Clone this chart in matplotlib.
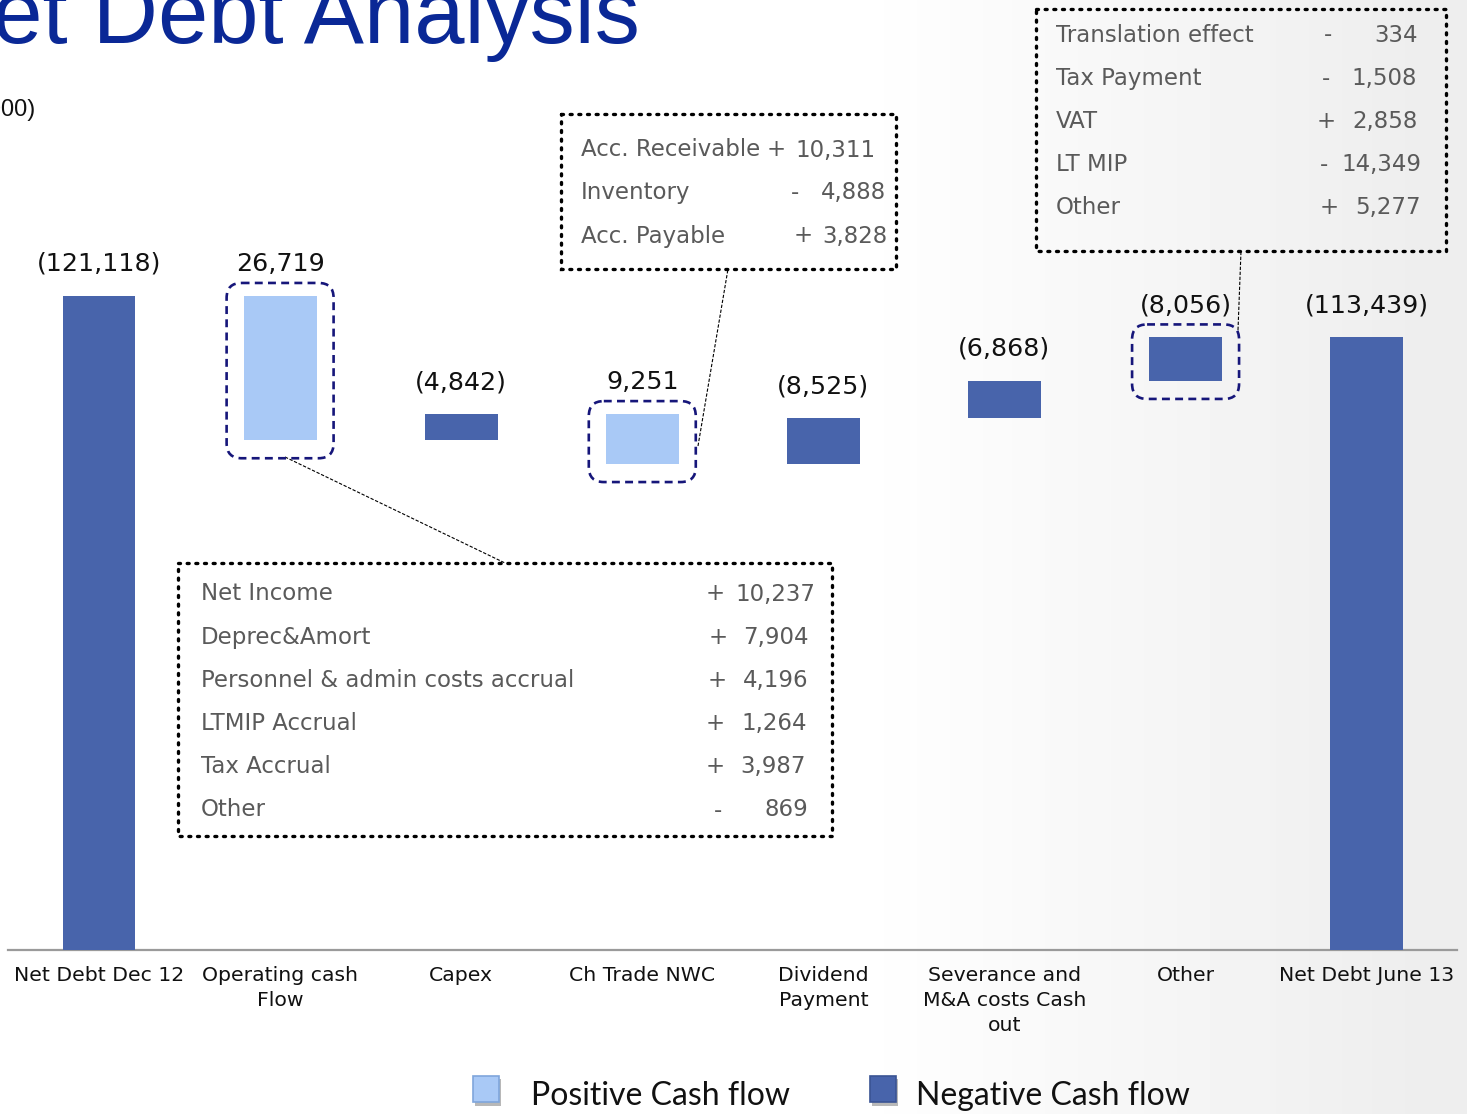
import matplotlib
matplotlib.use("Agg")
import matplotlib.pyplot as plt
import numpy as np
from matplotlib.patches import Rectangle, FancyBboxPatch

# ---------------- data ----------------
categories = ["Net Debt Dec 12", "Operating cash\nFlow", "Capex", "Ch Trade NWC",
              "Dividend\nPayment", "Severance and\nM&A costs Cash\nout", "Other",
              "Net Debt June 13"]
start_debt = 121118
cash_flows = [26719, -4842, 9251, -8525, -6868, -8056]
end_debt = 113439
value_labels = ["(121,118)", "26,719", "(4,842)", "9,251", "(8,525)",
                "(6,868)", "(8,056)", "(113,439)"]

op_items = ["Net Income", "Deprec&Amort", "Personnel & admin costs accrual",
            "LTMIP Accrual", "Tax Accrual", "Other"]
op_signs = ["+", "+", "+", "+", "+", "-"]
op_values = ["10,237", "7,904", "4,196", "1,264", "3,987", "869"]

nwc_items = ["Acc. Receivable", "Inventory", "Acc. Payable"]
nwc_signs = ["+", "-", "+"]
nwc_values = ["10,311", "4,888", "3,828"]

oth_items = ["Translation effect", "Tax Payment", "VAT", "LT MIP", "Other"]
oth_signs = ["-", "-", "+", "-", "+"]
oth_values = ["334", "1,508", "2,858", "14,349", "5,277"]

legend_labels = ["Positive Cash flow", "Negative Cash flow"]

# ---------------- style ----------------
DARK = "#4864AB"
LIGHT = "#A9C9F6"
NAVY = "#16167A"
GRAY_TXT = "#5a5a5a"
TITLE_BLUE = "#0A2896"

W, H = 1467, 1114
fig = plt.figure(figsize=(W / 100, H / 100), dpi=100)

# background gradient (light grey on the right)
bg = fig.add_axes([0, 0, 1, 1], zorder=0)
xs = np.linspace(0, 1, 400)
grad = np.clip((xs - 0.58) / 0.40, 0, 1)
vals = 1.0 - 0.07 * grad
img = np.tile(vals, (50, 1))
bg.imshow(img, cmap="gray", vmin=0, vmax=1, aspect="auto", extent=[0, 1, 0, 1])
bg.set_axis_off()

# main data axes
ax = fig.add_axes([0, 0, 1, 1], zorder=1)
ax.patch.set_alpha(0)
ax.set_xlim(-0.5467, 7.554)
ax.set_ylim(-30370, 175926)
ax.set_axis_off()

bottoms, heights, colors = [0], [start_debt], [DARK]
level = start_debt
for cf in cash_flows:
    new = level - cf
    bottoms.append(min(level, new))
    heights.append(abs(cf))
    colors.append(LIGHT if cf > 0 else DARK)
    level = new
bottoms.append(0)
heights.append(end_debt)
colors.append(DARK)

xpos = np.arange(len(categories))
ax.bar(xpos, heights, bottom=bottoms, width=0.403, color=colors, zorder=3)
ax.plot([-0.5, 7.5], [0, 0], color="#9a9a9a", lw=1.6, zorder=2)

# overlay pixel axes
ov = fig.add_axes([0, 0, 1, 1], zorder=2)
ov.set_xlim(0, W)
ov.set_ylim(H, 0)
ov.set_axis_off()
ov.patch.set_alpha(0)


def d2p(x, y):
    dx, dy = ax.transData.transform((x, y))
    return dx, H - dy


# value labels
for i, lab in enumerate(value_labels):
    px, py = d2p(xpos[i], bottoms[i] + heights[i])
    ov.text(px, py - 32, lab, ha="center", va="center", fontsize=18.2,
            color="#111111", family="DejaVu Sans")

# category labels
for i, cat in enumerate(categories):
    px, _ = d2p(xpos[i], 0)
    ov.text(px, 966, cat, ha="center", va="top", fontsize=14.7,
            color="#111111", family="DejaVu Sans", linespacing=1.4)

# dashed rounded boxes around bars with breakdowns
for i in [1, 3, 6]:
    x0, y0 = d2p(xpos[i] - 0.2015, bottoms[i] + heights[i])
    x1, y1 = d2p(xpos[i] + 0.2015, bottoms[i])
    box = FancyBboxPatch((x0 - 17, y0 - 13), (x1 - x0) + 34, (y1 - y0) + 31,
                         boxstyle="round,pad=0,rounding_size=15",
                         fill=False, ec=NAVY, lw=1.9, ls=(0, (3, 2)), zorder=5)
    ov.add_patch(box)


def dotted_box(x0, y0, x1, y1):
    r = Rectangle((x0, y0), x1 - x0, y1 - y0, fill=False, ec="black",
                  lw=2.4, ls=(0, (0.6, 2.0)), capstyle="round", zorder=5)
    ov.add_patch(r)


# operating cash flow box
dotted_box(178, 563, 832, 836)
op_sign_x = [715, 718, 717, 715, 715, 718]
op_val_x = [815, 809, 809, 807, 806, 808]
for k, (it, sg, vl) in enumerate(zip(op_items, op_signs, op_values)):
    y = 594 + 43.2 * k
    ov.text(201, y, it, ha="left", va="center", fontsize=16.5, color=GRAY_TXT)
    ov.text(op_sign_x[k], y, sg, ha="center", va="center", fontsize=16.5, color=GRAY_TXT)
    ov.text(op_val_x[k], y, vl, ha="right", va="center", fontsize=16.5, color=GRAY_TXT)

# NWC box
dotted_box(561, 114, 896, 269)
nwc_sign_x = [776, 795, 803]
nwc_val_x = [876, 886, 888]
for k, (it, sg, vl) in enumerate(zip(nwc_items, nwc_signs, nwc_values)):
    y = 150 + 43 * k
    ov.text(581, y, it, ha="left", va="center", fontsize=16.5, color=GRAY_TXT)
    ov.text(nwc_sign_x[k], y, sg, ha="center", va="center", fontsize=16.5, color=GRAY_TXT)
    ov.text(nwc_val_x[k], y, vl, ha="right", va="center", fontsize=16.5, color=GRAY_TXT)

# Other box
dotted_box(1036, 9, 1446, 251)
oth_sign_x = [1328, 1326, 1326, 1324, 1329]
oth_val_x = [1418, 1417, 1418, 1421, 1421]
for k, (it, sg, vl) in enumerate(zip(oth_items, oth_signs, oth_values)):
    y = 35 + 43.2 * k
    ov.text(1056, y, it, ha="left", va="center", fontsize=16.5, color=GRAY_TXT)
    ov.text(oth_sign_x[k], y, sg, ha="center", va="center", fontsize=16.5, color=GRAY_TXT)
    ov.text(oth_val_x[k], y, vl, ha="right", va="center", fontsize=16.5, color=GRAY_TXT)

# connector lines
conn = dict(color="black", lw=0.8, ls=(0, (3, 1.5)), zorder=4)
ov.plot([285, 505], [457, 563], **conn)
ov.plot([698, 728], [446, 269], **conn)
ov.plot([1238, 1241], [330, 251], **conn)

# title and unit (cropped at the edge, as in the reference)
ov.text(640, 43, "Net Debt Analysis", ha="right", va="baseline", fontsize=65,
        color=TITLE_BLUE, family="Liberation Sans")
ov.text(35, 116, "(€ 000)", ha="right", va="baseline", fontsize=17,
        color="#111111", family="Liberation Sans")

# legend
for (lx, fc, ec), lab, tx in zip([(473, LIGHT, "#7FA6DC"), (870, DARK, "#3A5494")],
                                 legend_labels, [531, 916]):
    ov.add_patch(Rectangle((lx + 2, 1079), 26, 27, fc="#b8b8b8", ec="none", zorder=4))
    ov.add_patch(Rectangle((lx, 1076), 26, 26, fc=fc, ec=ec, lw=1.2, zorder=5))
    ov.text(tx, 1096, lab, ha="left", va="center", fontsize=23, color="#111111",
            family=["Lato", "DejaVu Sans"])

fig.savefig("out.png", dpi=100)
